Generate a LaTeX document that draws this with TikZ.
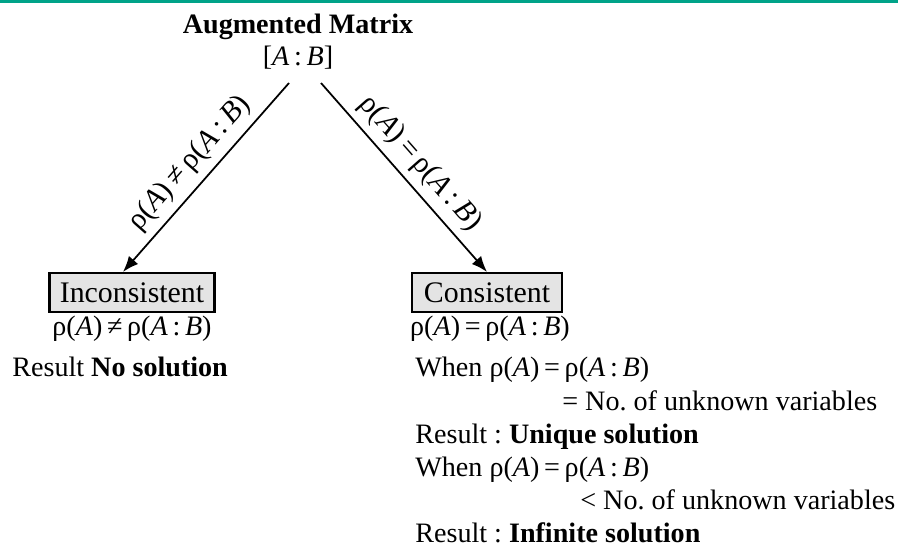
\documentclass[tikz,border=0pt]{standalone}
\usepackage{fontspec}
\setmainfont{Liberation Serif}
\usetikzlibrary{arrows.meta,positioning}
\definecolor{teal70}{RGB}{0,163,137}
\definecolor{gray90}{RGB}{228,228,228}
\newcommand{\rk}[1]{ρ(#1)}
\newcommand{\AB}{\textit{A}\,:\,\textit{B}}
\frenchspacing

\begin{document}
\begin{tikzpicture}[x=0.02cm,y=-0.02cm]
    \tikzstyle{txt}=[inner sep=0pt,font=\fontsize{16}{19}\selectfont] %
    \tikzstyle{box}=[rectangle,draw,line width=1.2pt,fill=gray90,%
    minimum height=0.78cm,inner sep=0pt,font=\fontsize{17}{20}\selectfont] %
    \tikzstyle{arr}=[-{Latex[length=9pt,width=7pt]},line width=1pt] %
    \tikzstyle{lbl}=[sloped,above,midway,inner sep=4pt,%
    font=\fontsize{17}{20}\selectfont] %

    \useasboundingbox (0,0) rectangle (898,554);
    \fill[teal70] (0,0) rectangle (898,3);

    %% Root
    \node[txt,anchor=base,font=\fontsize{16}{19}\selectfont\bfseries] (TTL) at (298,34) {Augmented Matrix};
    \node[txt,anchor=base] (MAT) at (298,66) {[\AB]};
    \coordinate (MATL) at (289,83);
    \coordinate (MATR) at (321,83);

    %% Branches
    \node[box,minimum width=3.3cm] (INC) at (132,292.5) {Inconsistent};
    \node[box,minimum width=3cm] (CON) at (487,292.5) {Consistent};

    \draw[arr] (MATL) -- node[lbl] {\rk{\textit{A}}\,≠\,\rk{\AB}} ([xshift=-0.18cm]INC.north);
    \draw[arr] (MATR) -- node[lbl] {\rk{\textit{A}}\,=\,\rk{\AB}} (CON.north);

    \node[txt,anchor=base] (INCR) at (132,335) {\rk{\textit{A}}\,≠\,\rk{\AB}};
    \node[txt,anchor=base] (CONR) at (490,335) {\rk{\textit{A}}\,=\,\rk{\AB}};

    %% Results
    \node[txt,anchor=base west] (RES0) at (12,376) {Result \textbf{No solution}};

    \node[txt,anchor=base west] (WHN1) at (415,376) {When \rk{\textit{A}}\,=\,\rk{\AB}};
    \node[txt,anchor=base west] (CND1) at (562,410) {= No. of unknown variables};
    \node[txt,anchor=base west] (RES1) at (415,443) {Result : \textbf{Unique solution}};
    \node[txt,anchor=base west] (WHN2) at (415,476) {When \rk{\textit{A}}\,=\,\rk{\AB}};
    \node[txt,anchor=base west] (CND2) at (580,509) {< No. of unknown variables};
    \node[txt,anchor=base west] (RES2) at (415,542) {Result : \textbf{Infinite solution}};
\end{tikzpicture}
\end{document}
